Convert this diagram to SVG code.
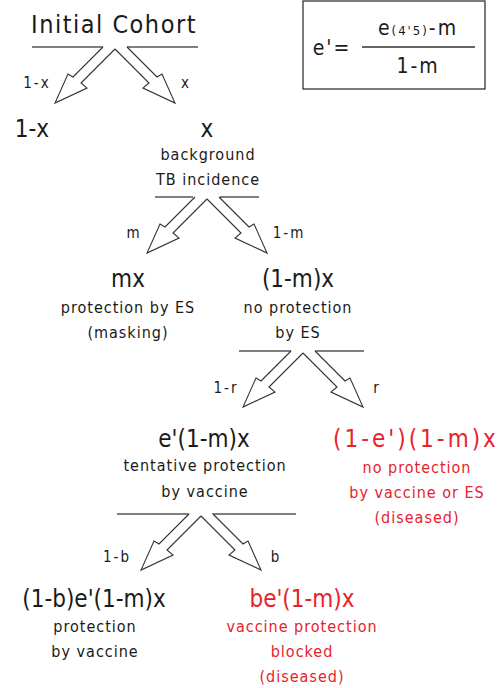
<svg xmlns="http://www.w3.org/2000/svg" width="503" height="688" viewBox="0 0 503 688">
<style>
text{font-family:"DejaVu Sans Condensed","DejaVu Sans",sans-serif;fill:#1a1a1a;text-anchor:middle;letter-spacing:0.5px}
.big{font-size:24px;letter-spacing:0px}
.mid{font-size:16px;letter-spacing:1px}
.sm{font-size:15px;letter-spacing:2px}
.red{fill:#e8212b}
.ln{stroke:#555;stroke-width:1.3;fill:none}
.arr{stroke:#333;stroke-width:1.1;fill:#fff;stroke-linejoin:miter}
</style>
<defs>
<path id="arrL" class="arr" d="M-12,-2 L-42,28 L-47,25 L-60,54 L-28,39 L-34,34 L0,0"/>
</defs>
<g id="connectors">
<line class="ln" x1="32" y1="47" x2="103" y2="47"/><line class="ln" x1="127" y1="47" x2="198" y2="47"/>
<use href="#arrL" transform="translate(115,49)"/><use href="#arrL" transform="translate(115,49) scale(-1,1)"/>
<line class="ln" x1="155" y1="197" x2="193" y2="197"/><line class="ln" x1="220" y1="197" x2="259" y2="197"/>
<use href="#arrL" transform="translate(207,199)"/><use href="#arrL" transform="translate(207,199) scale(-1,1)"/>
<line class="ln" x1="239" y1="351" x2="291" y2="351"/><line class="ln" x1="315" y1="351" x2="364" y2="351"/>
<use href="#arrL" transform="translate(303,353)"/><use href="#arrL" transform="translate(303,353) scale(-1,1)"/>
<line class="ln" x1="117" y1="514" x2="189" y2="514"/><line class="ln" x1="212" y1="514" x2="296" y2="514"/>
<use href="#arrL" transform="translate(201,516)"/><use href="#arrL" transform="translate(201,516) scale(-1,1)"/>
</g>
<g id="labels">
<text class="sm" x="37" y="88">1-x</text>
<text class="sm" x="186" y="88">x</text>
<text class="sm" x="134" y="238">m</text>
<text class="sm" x="289" y="238">1-m</text>
<text class="sm" x="226" y="393">1-r</text>
<text class="sm" x="377" y="393">r</text>
<text class="sm" x="117" y="562">1-b</text>
<text class="sm" x="276" y="562">b</text>
</g>
<g id="n-initial"><text x="114" y="33" style="font-size:25px;letter-spacing:1.5px">Initial Cohort</text></g>
<g id="n-formula">
<rect x="303" y="1" width="182" height="88" fill="none" stroke="#333" stroke-width="1.3"/>
<text x="332" y="55" style="font-size:21px;letter-spacing:2px">e'=</text>
<line x1="362" y1="47" x2="475" y2="47" stroke="#333" stroke-width="1.3"/>
<text x="418" y="35" style="font-size:21px;letter-spacing:2px">e<tspan style="font-size:13px;letter-spacing:2px">(4'5)</tspan>-m</text>
<text x="418" y="73" style="font-size:21px;letter-spacing:2px">1-m</text>
</g>
<g id="n-1x"><text class="big" x="32" y="137">1-x</text></g>
<g id="n-x">
<text class="big" x="207" y="137">x</text>
<text class="mid" x="208" y="160">background</text>
<text class="mid" x="208" y="185">TB incidence</text>
</g>
<g id="n-mx">
<text class="big" x="128" y="287">mx</text>
<text class="mid" x="128" y="313">protection by ES</text>
<text class="mid" x="128" y="338">(masking)</text>
</g>
<g id="n-1mx">
<text class="big" x="298" y="287">(1-m)x</text>
<text class="mid" x="298" y="313">no protection</text>
<text class="mid" x="298" y="338">by ES</text>
</g>
<g id="n-e1mx">
<text class="big" x="204" y="447">e'(1-m)x</text>
<text class="mid" x="205" y="471">tentative protection</text>
<text class="mid" x="205" y="497">by vaccine</text>
</g>
<g id="n-red1">
<text class="big red" x="416" y="447" style="letter-spacing:3px">(1-e')(1-m)x</text>
<text class="mid red" x="417" y="473">no protection</text>
<text class="mid red" x="417" y="498">by vaccine or ES</text>
<text class="mid red" x="417" y="523">(diseased)</text>
</g>
<g id="n-1b">
<text class="big" x="94" y="607">(1-b)e'(1-m)x</text>
<text class="mid" x="95" y="632">protection</text>
<text class="mid" x="95" y="657">by vaccine</text>
</g>
<g id="n-red2">
<text class="big red" x="302" y="607">be'(1-m)x</text>
<text class="mid red" x="302" y="632">vaccine protection</text>
<text class="mid red" x="302" y="657">blocked</text>
<text class="mid red" x="302" y="682">(diseased)</text>
</g>
</svg>
